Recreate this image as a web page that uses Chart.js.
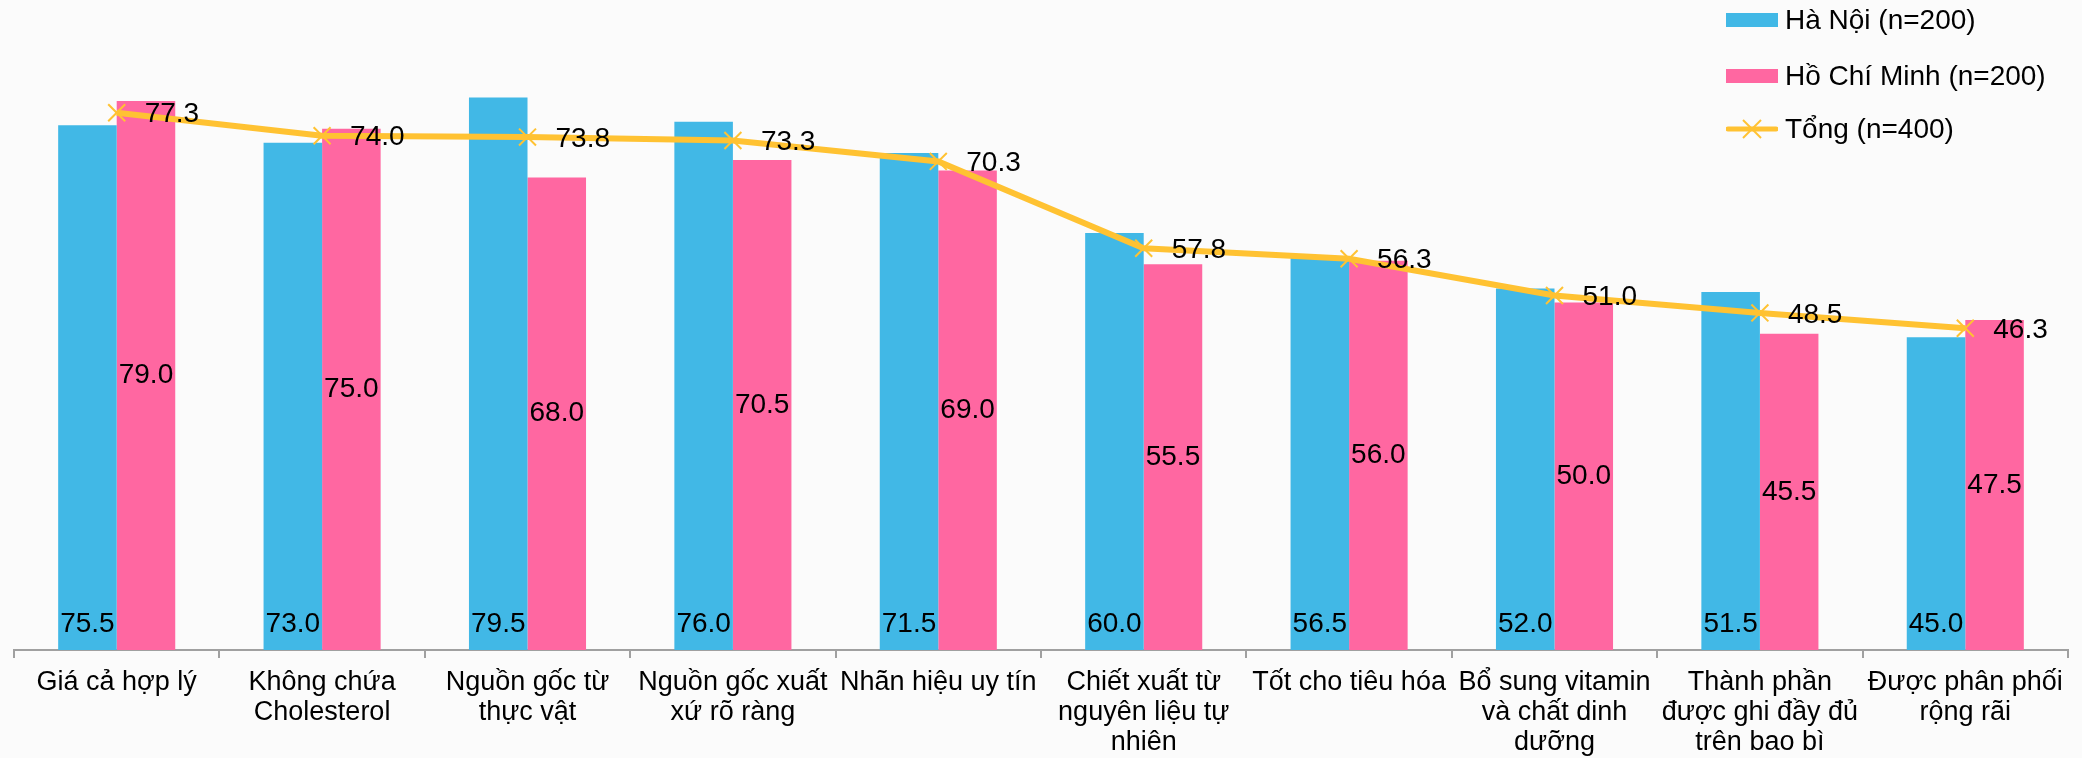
<!DOCTYPE html>
<html>
<head>
<meta charset="utf-8">
<script src="https://cdn.jsdelivr.net/npm/chart.js@4"></script>
<style>
  body { margin: 0; background: #fbfbfb; font-family: "Liberation Sans", Arial, sans-serif; }
  #wrap { position: relative; width: 2082px; height: 758px; }
  #legend { position: absolute; left: 1726px; top: 0; }
  .row { position: absolute; left: 0; height: 30px; display: flex; align-items: center; white-space: nowrap; font-size: 28px; color: #000; }
  .sw { width: 52px; height: 14px; margin-right: 7px; }
</style>
</head>
<body>
<div id="wrap">
  <canvas id="chart"></canvas>
  <div id="legend">
    <div class="row" style="top:5px"><div class="sw" style="background:#41B8E6"></div>Hà Nội (n=200)</div>
    <div class="row" style="top:61px"><div class="sw" style="background:#FF67A1"></div>Hồ Chí Minh (n=200)</div>
    <div class="row" style="top:114px">
      <svg width="52" height="30" style="margin-right:7px">
        <line x1="2" y1="15" x2="50" y2="15" stroke="#FFC232" stroke-width="5" stroke-linecap="round"/>
        <line x1="17" y1="6" x2="35" y2="24" stroke="#FFC232" stroke-width="2"/>
        <line x1="35" y1="6" x2="17" y2="24" stroke="#FFC232" stroke-width="2"/>
      </svg>Tổng (n=400)</div>
  </div>
</div>
<script>
const categories = [
  'Giá cả hợp lý',
  ['Không chứa', 'Cholesterol'],
  ['Nguồn gốc từ', 'thực vật'],
  ['Nguồn gốc xuất', 'xứ rõ ràng'],
  'Nhãn hiệu uy tín',
  ['Chiết xuất từ', 'nguyên liệu tự', 'nhiên'],
  'Tốt cho tiêu hóa',
  ['Bổ sung vitamin', 'và chất dinh', 'dưỡng'],
  ['Thành phần', 'được ghi đầy đủ', 'trên bao bì'],
  ['Được phân phối', 'rộng rãi']
];
const haNoi = [75.5, 73.0, 79.5, 76.0, 71.5, 60.0, 56.5, 52.0, 51.5, 45.0];
const hoChiMinh = [79.0, 75.0, 68.0, 70.5, 69.0, 55.5, 56.0, 50.0, 45.5, 47.5];
const tong = [77.3, 74.0, 73.8, 73.3, 70.3, 57.8, 56.3, 51.0, 48.5, 46.3];

const FONT = '"Liberation Sans", Arial, sans-serif';

// value labels: blue at bar foot, pink at bar middle, line to the right of the point
const valueLabels = {
  id: 'valueLabels',
  afterDatasetsDraw(chart) {
    const ctx = chart.ctx;
    ctx.save();
    ctx.font = '28px ' + FONT;
    ctx.fillStyle = '#000';
    chart.data.datasets.forEach((ds, i) => {
      const meta = chart.getDatasetMeta(i);
      meta.data.forEach((el, j) => {
        const txt = ds.data[j].toFixed(1);
        if (i === 0) {
          ctx.textAlign = 'center'; ctx.textBaseline = 'middle';
          ctx.fillText(txt, el.x, el.base - 26);
        } else if (i === 1) {
          ctx.textAlign = 'center'; ctx.textBaseline = 'middle';
          ctx.fillText(txt, el.x, (el.y + el.base) / 2);
        } else {
          ctx.textAlign = 'left'; ctx.textBaseline = 'middle';
          ctx.fillText(txt, el.x + 28, el.y + 2);
        }
      });
    });
    ctx.restore();
  }
};

new Chart(document.getElementById('chart'), {
  data: {
    labels: categories,
    datasets: [
      { type: 'bar', label: 'Hà Nội (n=200)', data: haNoi, backgroundColor: '#41B8E6', order: 2 },
      { type: 'bar', label: 'Hồ Chí Minh (n=200)', data: hoChiMinh, backgroundColor: '#FF67A1', order: 2 },
      {
        type: 'line', label: 'Tổng (n=400)', data: tong, order: 0,
        borderColor: '#FFC232', borderWidth: 6, tension: 0,
        pointStyle: 'crossRot', pointRadius: 12, pointBorderWidth: 2,
        pointBorderColor: '#FFC232', pointBackgroundColor: '#FFC232'
      }
    ]
  },
  options: {
    responsive: true,
    maintainAspectRatio: false,
    animation: false,
    layout: { padding: { top: 24.5, left: 9, right: 3, bottom: 0 } },
    datasets: { bar: { categoryPercentage: 0.57, barPercentage: 1.0 } },
    plugins: { legend: { display: false }, tooltip: { enabled: false } },
    scales: {
      y: { display: false, min: 0, max: 90 },
      x: {
        afterFit(scale) { scale.height = 108; },
        grid: { offset: true, drawOnChartArea: false, drawTicks: true, tickLength: 8, color: '#a0a0a0', lineWidth: 2 },
        border: { display: true, color: '#a0a0a0', width: 2 },
        ticks: {
          autoSkip: false, maxRotation: 0, padding: 9, color: '#000',
          font: { family: FONT, size: 27, lineHeight: 1.12 }
        }
      }
    }
  },
  plugins: [valueLabels]
});
</script>
</body>
</html>
